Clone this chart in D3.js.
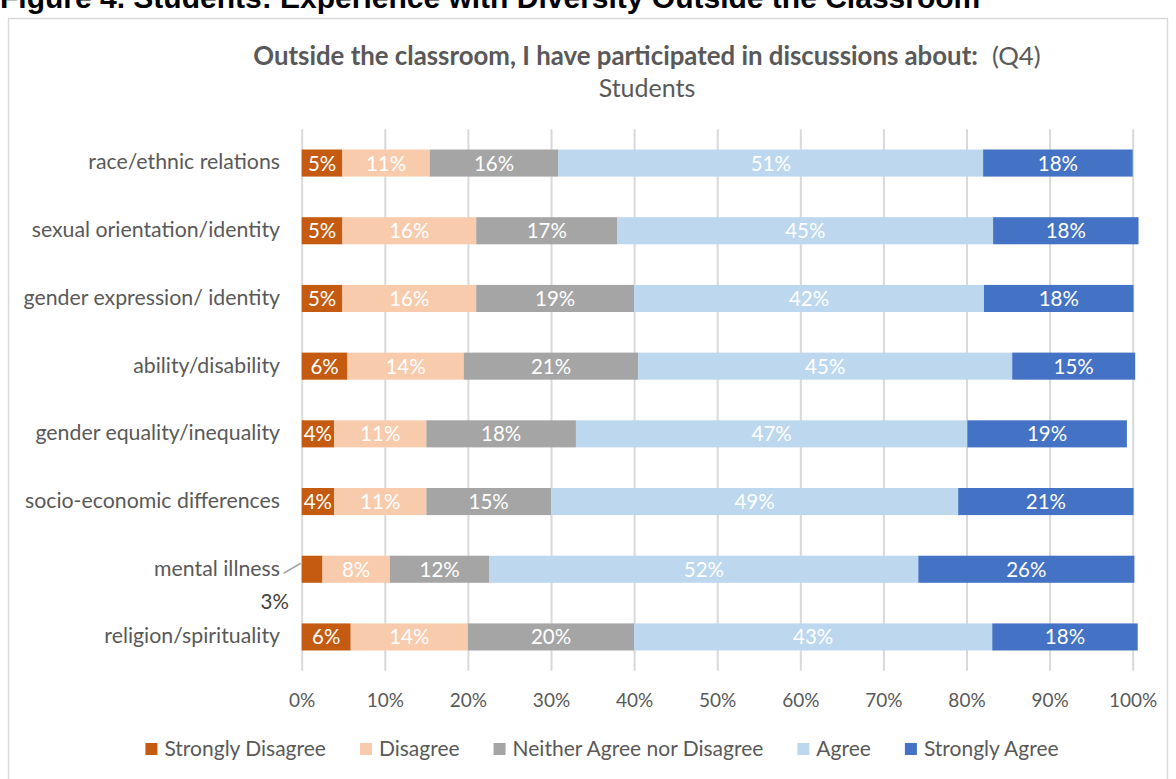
<!DOCTYPE html>
<html>
<head>
<meta charset="utf-8">
<script src="https://cdn.jsdelivr.net/npm/d3@7"></script>
<style>
  html, body { margin: 0; padding: 0; background: #ffffff; }
  svg { display: block; }
  text { font-family: "Lato", "Open Sans", sans-serif; }
</style>
</head>
<body>
<svg id="chart" width="1176" height="779"></svg>
<script>
// Survey items (rows, top to bottom)
const categories = [
  "race/ethnic relations",
  "sexual orientation/identity",
  "gender expression/ identity",
  "ability/disability",
  "gender equality/inequality",
  "socio-economic differences",
  "mental illness",
  "religion/spirituality"
];

// Response scale (stack order, left to right)
const responses = [
  "Strongly Disagree",
  "Disagree",
  "Neither Agree nor Disagree",
  "Agree",
  "Strongly Agree"
];

// Percent of students per response, one value per item
const stronglyDisagree = [4.9, 4.9, 4.9, 5.5, 3.9, 3.9, 2.5, 5.9];
const disagree         = [10.5, 16.1, 16.1, 14.0, 11.1, 11.1, 8.1, 14.1];
const neither          = [15.5, 17.0, 19.0, 21.0, 18.0, 15.0, 12.0, 20.0];
const agree            = [51.1, 45.2, 42.1, 45.0, 47.1, 49.0, 51.6, 43.1];
const stronglyAgree    = [18.0, 17.5, 18.0, 14.8, 19.2, 21.1, 26.0, 17.5];

// X axis ticks (percent)
const tickValues = [0, 10, 20, 30, 40, 50, 60, 70, 80, 90, 100];

const colors = ["#C55A11", "#F8CBAD", "#A5A5A5", "#BDD7EE", "#4472C4"];
const textGray = "#595959";

const seriesValues = [stronglyDisagree, disagree, neither, agree, stronglyAgree];
const rows = categories.map((c, i) => {
  const r = { category: c };
  responses.forEach((resp, k) => { r[resp] = seriesValues[k][i]; });
  return r;
});

const svg = d3.select("#chart");

// Figure caption, partly above the frame
svg.append("text")
  .attr("x", 0).attr("y", 8)
  .style("font-family", "'Liberation Sans', Arial, sans-serif")
  .style("font-weight", "bold")
  .style("font-size", "30px")
  .attr("fill", "#000")
  .text("Figure 4. Students: Experience with Diversity Outside the Classroom");

// Chart frame
svg.append("rect")
  .attr("x", 8.5).attr("y", 18.5)
  .attr("width", 1159).attr("height", 790)
  .attr("fill", "#fff")
  .attr("stroke", "#d9d9d9")
  .attr("stroke-width", 1.5);

// Title
const title = svg.append("text")
  .attr("x", 647).attr("y", 65)
  .attr("text-anchor", "middle")
  .attr("fill", textGray)
  .style("font-size", "25.8px");
title.append("tspan").style("font-weight", "bold")
  .text("Outside the classroom, I have participated in discussions about:");
title.append("tspan").attr("dx", 14).text("(Q4)");

svg.append("text")
  .attr("x", 647).attr("y", 97)
  .attr("text-anchor", "middle")
  .attr("fill", textGray)
  .style("font-size", "25px")
  .text("Students");

// Scales
const x = d3.scaleLinear().domain([0, 100]).range([301.7, 1132.7]);
const y = d3.scaleBand().domain(categories)
  .range([129.2, 670.8]).paddingInner(0.6).paddingOuter(0.3);

// Gridlines + tick labels
const xAxis = d3.axisBottom(x)
  .tickValues(tickValues)
  .tickFormat(d => d + "%")
  .tickSizeInner(-(y.range()[1] - y.range()[0]))
  .tickSizeOuter(0)
  .tickPadding(23);

const gx = svg.append("g")
  .attr("transform", `translate(0,${y.range()[1]})`)
  .call(xAxis);
gx.select(".domain").remove();
gx.selectAll(".tick line").attr("stroke", "#d9d9d9").attr("stroke-width", 2);
gx.selectAll(".tick text")
  .attr("fill", textGray)
  .style("font-size", "19px")
  .style("font-family", "'Lato', sans-serif");

// Category labels
const yAxis = d3.axisLeft(y).tickSize(0).tickPadding(0);
const gy = svg.append("g")
  .attr("transform", `translate(280,0)`)
  .call(yAxis);
gy.select(".domain").remove();
gy.selectAll(".tick text")
  .attr("fill", textGray)
  .style("font-size", "21.3px")
  .style("font-family", "'Lato', sans-serif")
  .attr("dy", "0.3em");

// Stacked bars
const stack = d3.stack().keys(responses);
const layers = stack(rows);

const layerG = svg.append("g").selectAll("g")
  .data(layers)
  .join("g")
  .attr("fill", (d, i) => colors[i]);

layerG.selectAll("rect")
  .data(d => d)
  .join("rect")
  .attr("x", d => x(d[0]))
  .attr("y", d => y(d.data.category))
  .attr("width", d => x(d[1]) - x(d[0]))
  .attr("height", y.bandwidth());

// Value labels (text taken from each segment's own value)
const fmt = v => Math.round(v) + "%";
layerG.each(function(layer) {
  const key = layer.key;
  d3.select(this).selectAll("text")
    .data(layer)
    .join("text")
    .attr("text-anchor", "middle")
    .style("font-size", "20.5px")
    .each(function(d) {
      const v = d.data[key];
      const t = d3.select(this);
      const cy = y(d.data.category) + y.bandwidth() / 2;
      if (x(d[1]) - x(d[0]) < 26) {
        // Narrow segment: label placed below-left with a leader line
        const x0 = x(d[0]);
        svg.append("line")
          .attr("x1", x0 - 1).attr("y1", cy - 6)
          .attr("x2", x0 - 18).attr("y2", cy + 4)
          .attr("stroke", "#a6a6a6").attr("stroke-width", 1.5);
        t.attr("x", x0 - 27).attr("y", cy + 40)
          .attr("fill", "#404040")
          .text(fmt(v));
      } else {
        t.attr("x", (x(d[0]) + x(d[1])) / 2)
          .attr("y", cy + 7.5)
          .attr("fill", "#ffffff")
          .text(fmt(v));
      }
    });
});

// Legend
const legend = svg.append("g");
let lx = 0;
responses.forEach((r, i) => {
  const g = legend.append("g").attr("transform", `translate(${lx},0)`);
  g.append("rect").attr("x", 0).attr("y", -6).attr("width", 12).attr("height", 12)
    .attr("fill", colors[i]);
  const t = g.append("text").attr("x", 19).attr("y", 7)
    .attr("fill", textGray)
    .style("font-size", "21px")
    .text(r);
  const w = t.node().getComputedTextLength();
  lx += 19 + w + 34;
});
const legendWidth = lx - 34;
legend.attr("transform", `translate(${602 - legendWidth / 2},749)`);
</script>
</body>
</html>
